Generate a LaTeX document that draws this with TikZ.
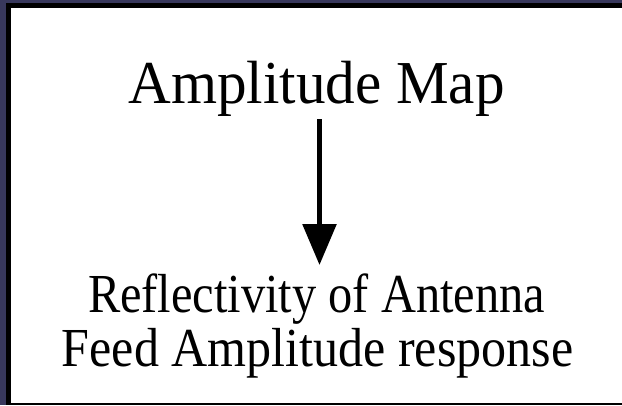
\documentclass[tikz,border=0pt]{standalone}
\usepackage{fontspec}
\setmainfont{Liberation Serif}
\usetikzlibrary{arrows.meta}
\definecolor{navy}{RGB}{56,56,92}
\tikzset{
  lbl/.style={inner sep=0pt, anchor=base, text=black},
  big/.style={lbl, font=\fontsize{61}{61}\selectfont, xscale=0.97},
  small/.style={lbl, font=\fontsize{55}{55}\selectfont},
  flow/.style={line width=5.5pt, -{Triangle[width=33pt,length=41pt]}}
}
\begin{document}
\begin{tikzpicture}[x=1pt,y=-1pt]
\useasboundingbox (0,0) rectangle (622,405);
\fill[navy] (0,0) rectangle (622,405);
\fill[black] (6,2.7) rectangle (622,405);
\fill[white] (11,8) rectangle (622,403);
\node[big] (a) at (316.5,103) {Amplitude Map};
\node[small, xscale=0.88] (b1) at (316.5,312) {Reflectivity of Antenna};
\node[small, xscale=0.91] (b2) at (317.5,366) {Feed Amplitude response};
\draw[flow] ([xshift=3pt,yshift=-3pt]a.south) -- ([xshift=3pt,yshift=8pt]b1.north);
\end{tikzpicture}
\end{document}
